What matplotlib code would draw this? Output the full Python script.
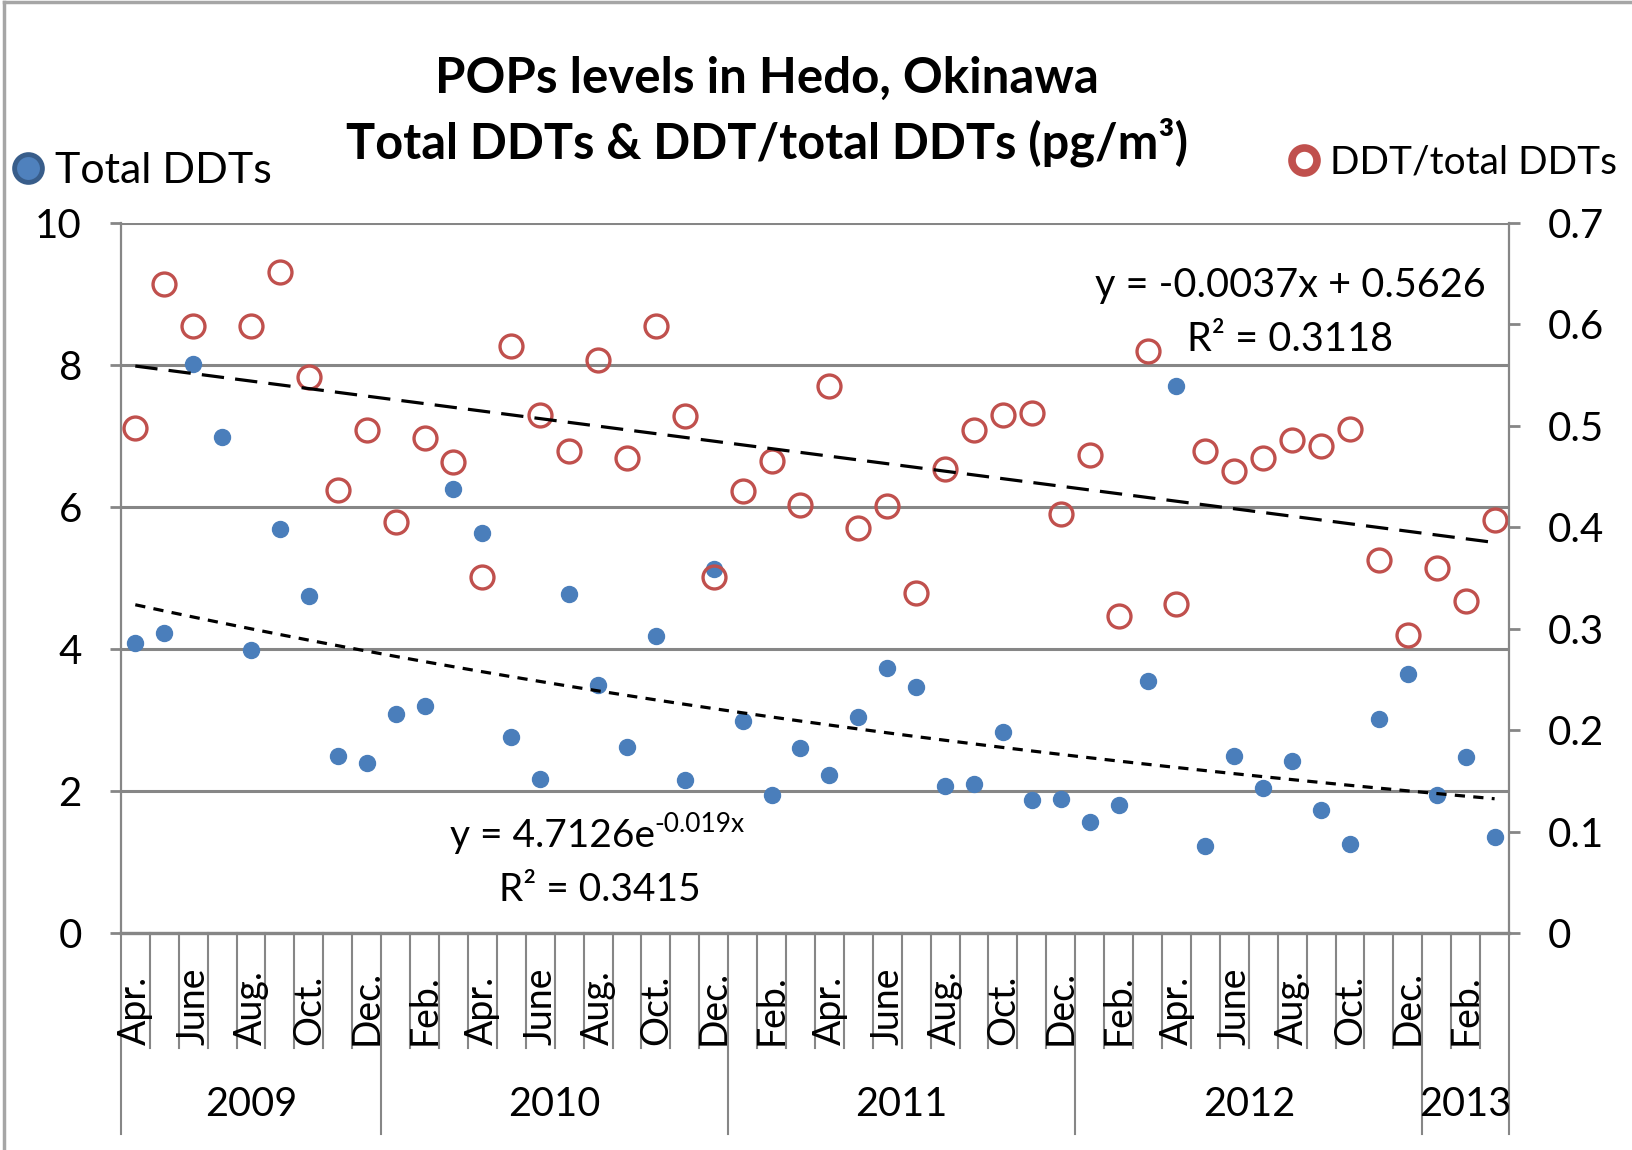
import numpy as np
import matplotlib.pyplot as plt
from matplotlib.lines import Line2D

plt.rcParams['font.family'] = ['Lato', 'DejaVu Sans']

# monthly samples, Apr 2009 - Mar 2013
months = ['Apr.', 'May', 'June', 'July', 'Aug.', 'Sep.', 'Oct.', 'Nov.', 'Dec.',
          'Jan.', 'Feb.', 'Mar.', 'Apr.', 'May', 'June', 'July', 'Aug.', 'Sep.', 'Oct.', 'Nov.', 'Dec.',
          'Jan.', 'Feb.', 'Mar.', 'Apr.', 'May', 'June', 'July', 'Aug.', 'Sep.', 'Oct.', 'Nov.', 'Dec.',
          'Jan.', 'Feb.', 'Mar.', 'Apr.', 'May', 'June', 'July', 'Aug.', 'Sep.', 'Oct.', 'Nov.', 'Dec.',
          'Jan.', 'Feb.', 'Mar.']
years = ['2009', '2010', '2011', '2012', '2013']
year_months = [9, 12, 12, 12, 3]

total_ddts = [4.09, 4.22, 8.02, 6.98, 3.99, 5.69, 4.75, 2.49, 2.40,
              3.08, 3.20, 6.26, 5.63, 2.76, 2.17, 4.77, 3.49, 2.62, 4.19, 2.16, 5.13,
              2.99, 1.94, 2.61, 2.23, 3.04, 3.74, 3.47, 2.07, 2.10, 2.83, 1.88, 1.89,
              1.57, 1.80, 3.55, 7.71, 1.23, 2.49, 2.04, 2.42, 1.74, 1.26, 3.02, 3.65,
              1.95, 2.48, 1.36]
ddt_ratio = [0.498, 0.640, 0.598, np.nan, 0.598, 0.652, 0.548, 0.437, 0.496,
             0.405, 0.488, 0.464, 0.351, 0.579, 0.511, 0.475, 0.565, 0.468, 0.598, 0.510, 0.351,
             0.436, 0.465, 0.422, 0.539, 0.399, 0.421, 0.335, 0.457, 0.496, 0.511, 0.513, 0.413,
             0.471, 0.313, 0.574, 0.324, 0.475, 0.455, 0.468, 0.486, 0.480, 0.497, 0.368, 0.294,
             0.360, 0.327, 0.407]

# Excel trendline coefficients
lin_slope, lin_icpt = -0.0037, 0.5626
exp_a, exp_b = 4.7126, -0.019

gray = '#868686'
blue = '#4a7ebb'
red = '#c0504d'

x = np.arange(1, len(months) + 1)

fig = plt.figure(figsize=(16.33, 11.5), dpi=100)
ax = fig.add_axes([0.0740, 0.1885, 0.8501, 0.6177])
ax2 = ax.twinx()

ax.set_xlim(0.5, len(months) + 0.5)
ax.set_ylim(0, 10)
ax.set_yticks([0, 2, 4, 6, 8, 10])
ax.yaxis.grid(True, color=gray, lw=2.2)
ax.set_axisbelow(True)
ax.tick_params(axis='y', direction='out', length=8, width=2, color=gray, pad=20, labelsize=29)
ax.tick_params(axis='x', length=0, labelbottom=False)
for s in ['top', 'right']:
    ax.spines[s].set_visible(False)
ax.spines['left'].set_color(gray)
ax.spines['left'].set_linewidth(1.6)
ax.spines['bottom'].set_color(gray)
ax.spines['bottom'].set_linewidth(2.4)

ax2.set_ylim(0, 0.7)
ax2.set_yticks(np.arange(0, 0.71, 0.1))
ax2.set_yticklabels(['0'] + ['%.1f' % v for v in np.arange(0.1, 0.71, 0.1)])
ax2.tick_params(axis='y', direction='out', length=8, width=2, color=gray, pad=20, labelsize=29)
for s in ['top', 'left', 'bottom']:
    ax2.spines[s].set_visible(False)
ax2.spines['right'].set_color(gray)
ax2.spines['right'].set_linewidth(1.6)

# series
ax.plot(x, total_ddts, 'o', ms=11.5, color=blue, ls='none', clip_on=False)
ax2.plot(x, ddt_ratio, 'o', ms=16.5, mfc='none', mec=red, mew=2.4, ls='none', clip_on=False)

# trendlines
ax2.plot(x, lin_slope * x + lin_icpt, color='black', lw=2.3, dashes=(7, 3.5))
ax.plot(x, exp_a * np.exp(exp_b * x), color='black', lw=2.3, dashes=(3.2, 2.6), zorder=5)

ax.text(0.983, 0.8957, 'y = -0.0037x + 0.5626', transform=ax.transAxes,
        ha='right', va='baseline', fontsize=28.5)
ax.text(0.842, 0.819, 'R² = 0.3118', transform=ax.transAxes,
        ha='center', va='baseline', fontsize=28.5)
t = ax.text(0.237, 0.1216, 'y = 4.7126e', transform=ax.transAxes,
            ha='left', va='baseline', fontsize=28)
ax.annotate('-0.019x', xy=(1.0, 0.62), xycoords=t, ha='left', va='baseline', fontsize=19)
ax.text(0.345, 0.0454, 'R² = 0.3415', transform=ax.transAxes,
        ha='center', va='baseline', fontsize=28)

# multi-level category axis
trans = ax.get_xaxis_transform()
year_edges = 0.5 + np.concatenate([[0], np.cumsum(year_months)])
for b in np.arange(0.5, len(months) + 1):
    bottom = -0.282 if b in year_edges else -0.161
    ax.plot([b, b], [0, bottom], transform=trans, color=gray, lw=1.5, clip_on=False)
for xi, lab in zip(x[::2], months[::2]):
    ax.text(xi, -0.158, lab, transform=trans, rotation=90, ha='center', va='bottom', fontsize=27)
for (a, b), yr in zip(zip(year_edges[:-1], year_edges[1:]), years):
    ax.text((a + b) / 2, -0.241, yr, transform=trans, ha='center', va='center', fontsize=28.5)

# title
fig.text(0.4696, 0.932, 'POPs levels in Hedo, Okinawa', ha='center', va='center',
         fontsize=35.5, fontweight='bold')
fig.text(0.4696, 0.876, 'Total DDTs & DDT/total DDTs (pg/m³)', ha='center', va='center',
         fontsize=35, fontweight='bold')

# legends
h1 = Line2D([], [], marker='o', ls='none', ms=20, mfc='#4f81bd', mec='#385d8a', mew=3.5)
ax.legend([h1], ['Total DDTs'], loc='center left', bbox_to_anchor=(0.0067, 0.851),
          bbox_transform=fig.transFigure, frameon=False, fontsize=31, handlelength=0.8,
          handletextpad=0.22, borderpad=0, borderaxespad=0)
h2 = Line2D([], [], marker='o', ls='none', ms=18, mfc='white', mec=red, mew=5.5)
ax2.legend([h2], ['DDT/total DDTs'], loc='center left', bbox_to_anchor=(1287 / 1633, 0.859),
           bbox_transform=fig.transFigure, frameon=False, fontsize=28, handlelength=0.85,
           handletextpad=0.25, borderpad=0, borderaxespad=0)

# chart frame
fig.add_artist(Line2D([0.0025, 0.0025], [0, 0.998], transform=fig.transFigure, color='#a6a6a6', lw=2.5))
fig.add_artist(Line2D([0.0025, 1], [0.998, 0.998], transform=fig.transFigure, color='#a6a6a6', lw=2.5))

fig.savefig('out.png', dpi=100)
